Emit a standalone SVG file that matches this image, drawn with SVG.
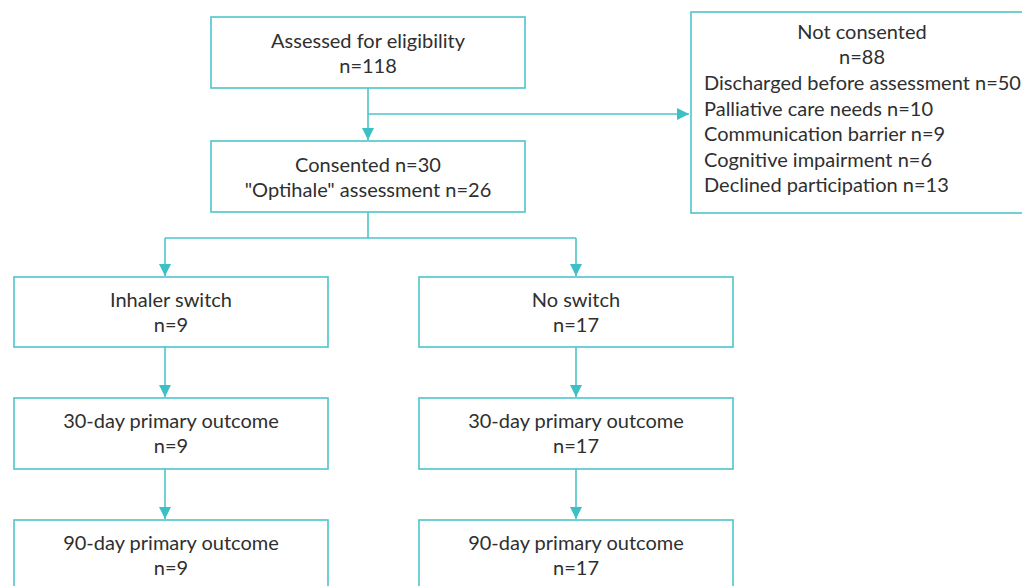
<svg xmlns="http://www.w3.org/2000/svg" width="1022" height="586" viewBox="0 0 1022 586">
<style>
.box{fill:#fff;stroke:#4cc6cb;stroke-width:1.6}
.t{font-family:Lato,"Source Sans Pro","Noto Sans",sans-serif;font-size:20px;fill:#2f2f2f}
.c{text-anchor:middle}
.ln{fill:none;stroke:#4cc6cb;stroke-width:1.6}
</style>
<defs>
<marker id="ah" markerUnits="userSpaceOnUse" markerWidth="12" markerHeight="12" viewBox="0 0 12 12" refX="12" refY="6" orient="auto">
<path d="M0,0 L12,6 L0,12 Z" fill="#3cc0c5"/>
</marker>
</defs>
<rect width="1022" height="586" fill="#fff"/>
<g id="connectors">
<path class="ln" d="M368,88 V140" marker-end="url(#ah)"/>
<path class="ln" d="M368,114 H689" marker-end="url(#ah)"/>
<path class="ln" d="M368,212 V238 M165,238 H576"/>
<path class="ln" d="M165,238 V276" marker-end="url(#ah)"/>
<path class="ln" d="M576,238 V276" marker-end="url(#ah)"/>
<path class="ln" d="M165,347 V397" marker-end="url(#ah)"/>
<path class="ln" d="M165,469 V519" marker-end="url(#ah)"/>
<path class="ln" d="M576,347 V397" marker-end="url(#ah)"/>
<path class="ln" d="M576,469 V519" marker-end="url(#ah)"/>
</g>
<g id="assessed">
<rect class="box" x="211" y="17" width="314" height="71"/>
<text class="t c" x="368" y="48">Assessed for eligibility</text>
<text class="t c" x="368" y="73">n=118</text>
</g>
<g id="consented">
<rect class="box" x="211" y="141" width="314" height="71"/>
<text class="t c" x="368" y="172">Consented n=30</text>
<text class="t c" x="368" y="197">"Optihale" assessment n=26</text>
</g>
<g id="notconsented">
<rect class="box" x="691" y="12" width="340" height="201"/>
<text class="t c" x="862" y="39">Not consented</text>
<text class="t c" x="862" y="64">n=88</text>
<text class="t" x="704" y="90">Discharged before assessment n=50</text>
<text class="t" x="704" y="116">Palliative care needs n=10</text>
<text class="t" x="704" y="141">Communication barrier n=9</text>
<text class="t" x="704" y="167">Cognitive impairment n=6</text>
<text class="t" x="704" y="192">Declined participation n=13</text>
</g>
<g id="inhalerswitch">
<rect class="box" x="14" y="277" width="314" height="70"/>
<text class="t c" x="171" y="307">Inhaler switch</text>
<text class="t c" x="171" y="332">n=9</text>
</g>
<g id="noswitch">
<rect class="box" x="419" y="277" width="314" height="70"/>
<text class="t c" x="576" y="307">No switch</text>
<text class="t c" x="576" y="332">n=17</text>
</g>
<g id="left30">
<rect class="box" x="14" y="398" width="314" height="71"/>
<text class="t c" x="171" y="428">30-day primary outcome</text>
<text class="t c" x="171" y="453">n=9</text>
</g>
<g id="right30">
<rect class="box" x="419" y="398" width="314" height="71"/>
<text class="t c" x="576" y="428">30-day primary outcome</text>
<text class="t c" x="576" y="453">n=17</text>
</g>
<g id="left90">
<rect class="box" x="14" y="520" width="314" height="80"/>
<text class="t c" x="171" y="550">90-day primary outcome</text>
<text class="t c" x="171" y="575">n=9</text>
</g>
<g id="right90">
<rect class="box" x="419" y="520" width="314" height="80"/>
<text class="t c" x="576" y="550">90-day primary outcome</text>
<text class="t c" x="576" y="575">n=17</text>
</g>
</svg>
